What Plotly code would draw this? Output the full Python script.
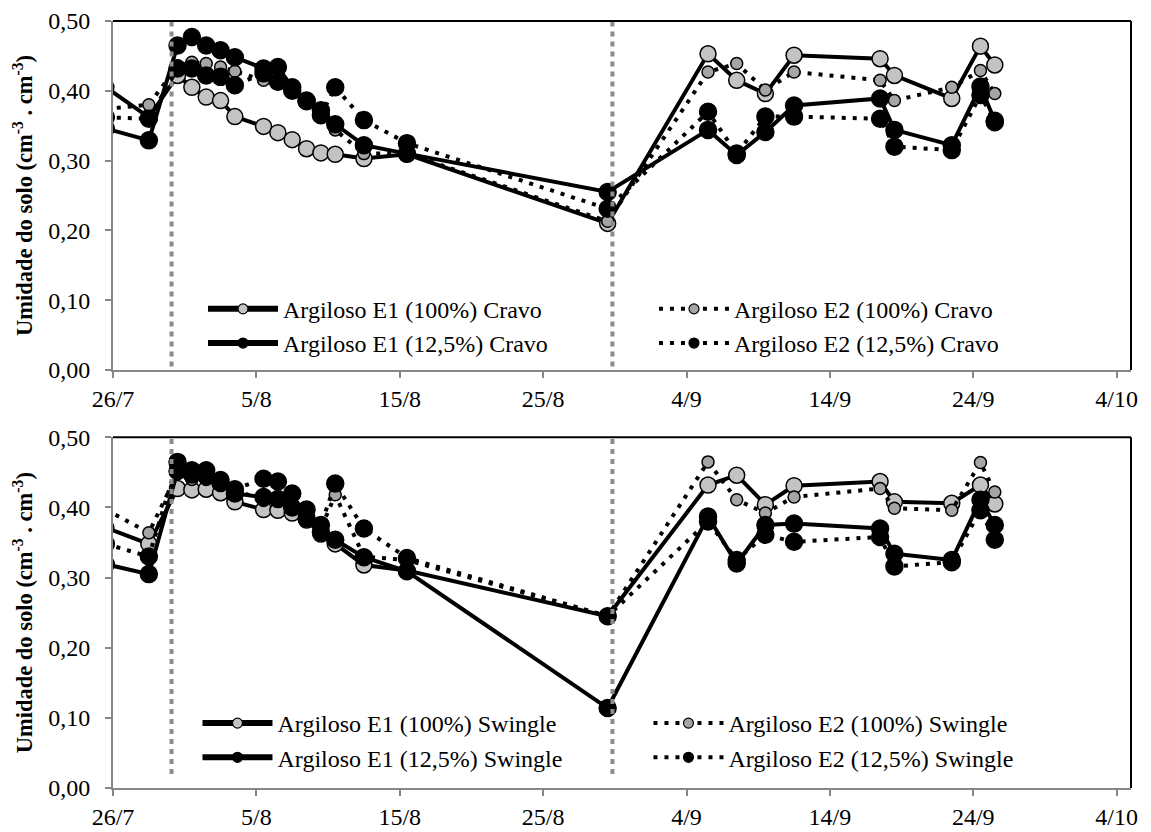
import pandas as pd
import plotly.graph_objects as go

# ---------------- data ----------------
dates = ["2013-07-25", "2013-07-28", "2013-07-30", "2013-07-31", "2013-08-01", "2013-08-02",
         "2013-08-03", "2013-08-05", "2013-08-06", "2013-08-07", "2013-08-08", "2013-08-09",
         "2013-08-10", "2013-08-12", "2013-08-15", "2013-08-29", "2013-09-05", "2013-09-07",
         "2013-09-09", "2013-09-11", "2013-09-17", "2013-09-18", "2013-09-22", "2013-09-24",
         "2013-09-25"]

# Cravo (top panel)
e1_100_cravo = [0.405, 0.362, 0.422, 0.405, 0.391, 0.386, 0.363, 0.349, 0.340, 0.330, 0.317, 0.311,
                0.309, 0.303, 0.309, 0.210, 0.453, 0.415, 0.396, 0.451, 0.446, 0.422, 0.389, 0.464, 0.437]
e2_100_cravo = [0.374, 0.380, 0.436, 0.441, 0.439, 0.434, 0.428, 0.415, 0.410, 0.400, 0.383, 0.362,
                0.344, 0.310, 0.310, 0.213, 0.427, 0.439, 0.401, 0.427, 0.415, 0.386, 0.405, 0.429, 0.396]
e1_125_cravo = [0.346, 0.329, 0.465, 0.477, 0.465, 0.458, 0.448, 0.432, 0.434, 0.405, 0.386, 0.372,
                0.352, 0.322, 0.310, 0.255, 0.344, 0.308, 0.341, 0.379, 0.389, 0.344, 0.322, 0.406, 0.357]
e2_125_cravo = [0.362, 0.360, 0.432, 0.432, 0.422, 0.420, 0.408, 0.425, 0.413, 0.400, 0.385, 0.365,
                0.405, 0.358, 0.325, 0.231, 0.370, 0.310, 0.363, 0.363, 0.360, 0.320, 0.315, 0.394, 0.355]

# Swingle (bottom panel)
e1_100_swingle = [0.371, 0.348, 0.427, 0.425, 0.426, 0.421, 0.408, 0.397, 0.396, 0.392, 0.382, 0.362,
                  0.348, 0.318, 0.310, 0.245, 0.432, 0.446, 0.404, 0.431, 0.437, 0.408, 0.406, 0.432, 0.405]
e2_100_swingle = [0.397, 0.364, 0.449, 0.440, 0.440, 0.435, 0.425, 0.410, 0.410, 0.405, 0.390, 0.370,
                  0.418, 0.330, 0.325, 0.245, 0.465, 0.411, 0.392, 0.415, 0.427, 0.399, 0.396, 0.464, 0.422]
e1_125_swingle = [0.319, 0.305, 0.452, 0.447, 0.445, 0.435, 0.420, 0.415, 0.412, 0.400, 0.385, 0.365,
                  0.354, 0.329, 0.309, 0.114, 0.387, 0.320, 0.375, 0.377, 0.370, 0.334, 0.325, 0.411, 0.375]
e2_125_swingle = [0.348, 0.330, 0.465, 0.453, 0.453, 0.439, 0.426, 0.441, 0.437, 0.420, 0.397, 0.375,
                  0.434, 0.370, 0.328, 0.245, 0.380, 0.325, 0.361, 0.351, 0.358, 0.316, 0.322, 0.396, 0.354]

event_dates = ["2013-07-30 02:00", "2013-08-29 20:00"]

tick_dates = ["2013-07-26", "2013-08-05", "2013-08-15", "2013-08-25", "2013-09-04",
              "2013-09-14", "2013-09-24", "2013-10-04"]
tick_labels = ["26/7", "5/8", "15/8", "25/8", "4/9", "14/9", "24/9", "4/10"]
y_ticks = [0.0, 0.1, 0.2, 0.3, 0.4, 0.5]

x_range = ["2013-07-26", "2013-10-05"]

# points sit in the middle of their day slot (date axis "between tick marks")
x = pd.to_datetime(dates) + pd.Timedelta(hours=12)

FONT = "Liberation Serif"
AX_GREY = "#868686"
DOT = "4px,7px"

styles = {
    "E1_100": dict(dash="solid", fill="#C3C3C3", size=16),
    "E2_100": dict(dash=DOT, fill="#A5A5A5", size=12),
    "E1_125": dict(dash="solid", fill="black", size=17),
    "E2_125": dict(dash=DOT, fill="black", size=17),
}

fig = go.Figure()

panels = [
    ("x", "y", "Cravo", [("E1_100", "Argiloso E1 (100%)", e1_100_cravo, "legend"),
                         ("E2_100", "Argiloso E2 (100%)", e2_100_cravo, "legend2"),
                         ("E1_125", "Argiloso E1 (12,5%)", e1_125_cravo, "legend"),
                         ("E2_125", "Argiloso E2 (12,5%)", e2_125_cravo, "legend2")]),
    ("x2", "y2", "Swingle", [("E1_100", "Argiloso E1 (100%)", e1_100_swingle, "legend3"),
                             ("E2_100", "Argiloso E2 (100%)", e2_100_swingle, "legend4"),
                             ("E1_125", "Argiloso E1 (12,5%)", e1_125_swingle, "legend3"),
                             ("E2_125", "Argiloso E2 (12,5%)", e2_125_swingle, "legend4")]),
]

for xa, ya, rootstock, series in panels:
    for key, label, vals, leg in series:
        st = styles[key]
        name = f"{label} {rootstock}"
        # data trace
        fig.add_trace(go.Scatter(
            x=x, y=vals, mode="lines+markers", name=name, xaxis=xa, yaxis=ya,
            line=dict(color="black", width=4, dash=st["dash"]),
            marker=dict(size=st["size"], color=st["fill"], line=dict(color="black", width=1.5)),
            cliponaxis=True, showlegend=False, legendgroup=name,
        ))
        # legend entry (thicker line, small marker, as in the original legend)
        fig.add_trace(go.Scatter(
            x=[None], y=[None], mode="lines+markers", name=name, xaxis=xa, yaxis=ya,
            legend=leg, legendgroup=name, showlegend=True, hoverinfo="skip",
            line=dict(color="black", width=6 if st["dash"] == "solid" else 4, dash=st["dash"]),
            marker=dict(size=10, color=st["fill"], line=dict(color="black", width=1.2)),
        ))

axis_common = dict(
    showline=True, linecolor=AX_GREY, linewidth=2, showgrid=False, zeroline=False,
    ticks="outside", tickcolor=AX_GREY, ticklen=6, tickwidth=2, automargin=False,
    tickfont=dict(family=FONT, size=24, color="black"),
)

xaxis_cfg = dict(axis_common, type="date", range=x_range, tickmode="array",
                 tickvals=tick_dates, ticktext=tick_labels)
yaxis_cfg = dict(axis_common, range=[0, 0.5], tickmode="array", tickvals=y_ticks,
                 tickformat=".2f", ticklabelstandoff=10,
                 title=dict(text="<b>Umidade do solo (cm<sup>-3</sup> . cm<sup>-3</sup>)</b>",
                            font=dict(family=FONT, size=22.5, color="black"), standoff=9))

top_dom = [0.545, 1.0]
bot_dom = [0.0, 0.4572]

legend_common = dict(font=dict(family=FONT, size=24, color="black"), bgcolor="rgba(0,0,0,0)",
                     itemwidth=70, itemsizing="trace", yanchor="middle", xanchor="left",
                     orientation="v", tracegroupgap=0, traceorder="normal")

# page body has an 8px margin, so the figure is sized to fit the 1151x832 window exactly
fig.update_layout(
    width=1143, height=824,
    margin=dict(l=105, r=20, t=13, b=44, autoexpand=False),
    paper_bgcolor="white", plot_bgcolor="white",
    separators=", ",
    xaxis=dict(xaxis_cfg, domain=[0, 1], anchor="y"),
    yaxis=dict(yaxis_cfg, domain=top_dom, anchor="x"),
    xaxis2=dict(xaxis_cfg, domain=[0, 1], anchor="y2"),
    yaxis2=dict(yaxis_cfg, domain=bot_dom, anchor="x2"),
    legend=dict(legend_common, x=0.0884, y=0.602),
    legend2=dict(legend_common, x=0.5314, y=0.602),
    legend3=dict(legend_common, x=0.0830, y=0.0619),
    legend4=dict(legend_common, x=0.526, y=0.0619),
    showlegend=True,
)

shapes = []
for xr, yr, y0 in (("x", "y", 0.005), ("x2", "y2", 0.02)):
    for d in event_dates:
        shapes.append(dict(type="line", xref=xr, yref=yr, x0=d, x1=d, y0=y0, y1=0.5,
                           line=dict(color="#8C8C8C", width=4, dash="5px,5px"), layer="above"))
    # black frame on top and right of each plot area
    shapes.append(dict(type="line", xref=f"{xr} domain", yref=f"{yr} domain", x0=0, x1=1, y0=1, y1=1,
                       line=dict(color="black", width=2), layer="above"))
    shapes.append(dict(type="line", xref=f"{xr} domain", yref=f"{yr} domain", x0=1, x1=1, y0=0, y1=1,
                       line=dict(color="black", width=2), layer="above"))
fig.update_layout(shapes=shapes)

fig.write_html("out.html")
